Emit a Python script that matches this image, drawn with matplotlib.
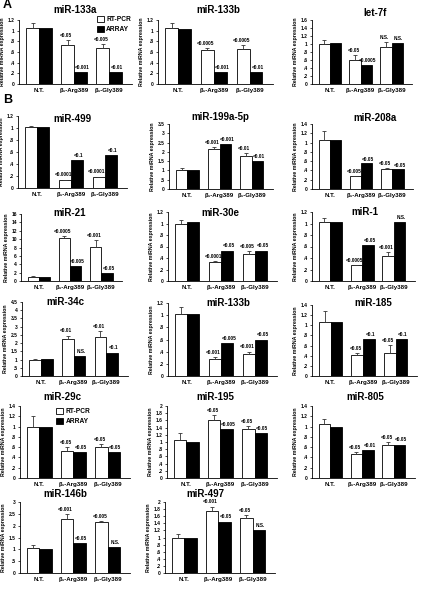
import matplotlib
matplotlib.use("Agg")
import matplotlib.pyplot as plt
import numpy as np
from matplotlib.patches import Patch

plt.rcParams['font.family'] = ['Liberation Sans', 'DejaVu Sans']
plt.rcParams['font.weight'] = 'bold'

W, H = 421, 601
groups = ["N.T.", "β₁-Arg389", "β₁-Gly389"]

# ---------------- data ----------------
titles = ["miR-133a", "miR-133b", "let-7f",
          "miR-499", "miR-199a-5p", "miR-208a",
          "miR-21", "miR-30e", "miR-1",
          "miR-34c", "miR-133b", "miR-185",
          "miR-29c", "miR-195", "miR-805",
          "miR-146b", "miR-497"]

rtpcr = [[1.05, 0.74, 0.67], [1.05, 0.63, 0.66], [1.00, 0.60, 0.92],
         [1.02, 0.13, 0.18], [1.02, 2.18, 1.78], [1.05, 0.27, 0.43],
         [1.00, 10.2, 8.1], [1.00, 0.33, 0.47], [1.02, 0.27, 0.43],
         [1.00, 2.25, 2.35], [1.02, 0.28, 0.36], [1.06, 0.42, 0.45],
         [1.00, 0.52, 0.60], [1.05, 1.60, 1.35], [1.05, 0.47, 0.65],
         [1.05, 2.30, 2.15], [1.00, 1.75, 1.55]]

rtpcr_err = [[0.10, 0.08, 0.08], [0.10, 0.05, 0.07], [0.10, 0.12, 0.12],
             [0.02, 0.01, 0.01], [0.10, 0.10, 0.18], [0.20, 0.02, 0.02],
             [0.20, 0.60, 1.60], [0.06, 0.02, 0.05], [0.08, 0.01, 0.08],
             [0.05, 0.20, 0.40], [0.12, 0.03, 0.04], [0.22, 0.04, 0.16],
             [0.20, 0.08, 0.06], [0.20, 0.15, 0.10], [0.10, 0.03, 0.05],
             [0.15, 0.20, 0.05], [0.10, 0.12, 0.08]]

array = [[1.05, 0.23, 0.23], [1.03, 0.22, 0.22], [1.02, 0.48, 1.02],
         [1.02, 0.46, 0.55], [1.02, 2.42, 1.52], [1.06, 0.55, 0.42],
         [1.00, 3.50, 1.90], [1.02, 0.53, 0.53], [1.02, 0.63, 1.02],
         [1.02, 1.22, 1.42], [1.02, 0.54, 0.60], [1.06, 0.72, 0.72],
         [1.00, 0.50, 0.50], [1.00, 1.35, 1.25], [1.00, 0.55, 0.65],
         [1.00, 1.25, 1.10], [1.00, 1.45, 1.20]]

rt_pvals = [["<0.05", "<0.005"], ["<0.0005", "<0.0005"], ["<0.05", "N.S."],
            ["<0.0001", "<0.0001"], ["<0.001", "<0.01"], ["<0.005", "<0.05"],
            ["<0.0005", "<0.001"], ["<0.0001", "<0.005"], ["<0.0005", "<0.001"],
            ["<0.01", "<0.01"], ["<0.001", "<0.001"], ["<0.05", "<0.05"],
            ["<0.05", "<0.05"], ["<0.05", "<0.05"], ["<0.05", "<0.05"],
            ["<0.001", "<0.005"], ["<0.001", "<0.05"]]

ar_pvals = [["<0.001", "<0.01"], ["<0.001", "<0.01"], ["<0.0005", "N.S."],
            ["<0.1", "<0.1"], ["<0.001", "<0.01"], ["<0.05", "<0.05"],
            ["<0.005", "<0.05"], ["<0.05", "<0.05"], ["<0.05", "N.S."],
            ["N.S.", "<0.1"], ["<0.005", "<0.05"], ["<0.1", "<0.1"],
            ["<0.05", "<0.05"], ["<0.005", "<0.05"], ["<0.01", "<0.05"],
            ["<0.05", "N.S."], ["<0.05", "N.S."]]

ymax = [1.2, 1.2, 1.6, 1.2, 3.5, 1.4, 16, 1.2, 1.2, 4.5, 1.2, 1.4,
        1.4, 2.0, 1.4, 3.0, 2.0]
ystep = [0.2, 0.2, 0.2, 0.2, 0.5, 0.2, 2, 0.2, 0.2, 0.5, 0.2, 0.2,
         0.2, 0.2, 0.2, 0.5, 0.2]

# ---------------- layout (pixels) ----------------
# x0, x1, ytop, yzero
boxes = [(19, 132, 20, 84), (158, 273, 20, 84), (312, 412, 20, 84),
         (18, 127, 116, 188), (169, 273, 124, 189), (312, 413, 124, 189),
         (21, 122, 214, 281), (168, 277, 212, 281), (312, 415, 212, 281),
         (22, 128, 302, 376), (168, 277, 303, 376), (312, 417, 305, 376),
         (20, 130, 406, 478), (167, 277, 406, 478), (312, 415, 406, 478),
         (20, 130, 502, 573), (165, 275, 502, 573)]
title_pos = [(75, 10), (218, 10), (375, 13),
             (72, 119), (220, 117), (375, 118),
             (70, 213), (220, 213), (365, 212),
             (65, 302), (228, 303), (373, 303),
             (62, 397), (215, 397), (365, 397),
             (65, 494), (205, 494)]

fig = plt.figure(figsize=(W / 100, H / 100), dpi=100)
fig.patch.set_facecolor('white')

def fmt(v):
    if abs(v) < 1e-9:
        return "0"
    if abs(v - round(v)) < 1e-9:
        return str(int(round(v)))
    s = ("%.1f" % v)
    if s.startswith("0"):
        s = s[1:]
    return s

bw = 0.36
sh = 0.05
x = np.arange(3)
for i, t in enumerate(titles):
    x0, x1, yt, yz = boxes[i]
    ax = fig.add_axes([x0 / W, 1 - yz / H, (x1 - x0) / W, (yz - yt) / H])
    ax.bar(x - bw / 2, rtpcr[i], bw, color='white', edgecolor='black', linewidth=0.6,
           yerr=[np.zeros(3), rtpcr_err[i]], error_kw=dict(elinewidth=0.6, capsize=1.2,
                                                         capthick=0.6, ecolor='#333333'))
    ax.bar(x + bw / 2, array[i], bw, color='black', edgecolor='black', linewidth=0.6)
    ax.set_xlim(-0.57, 2.66)
    ax.set_ylim(0, ymax[i])
    ticks = np.arange(0, ymax[i] + 1e-9, ystep[i])
    ax.set_yticks(ticks)
    ax.set_yticklabels([fmt(v) for v in ticks], fontsize=3.5)
    ax.set_xticks(x)
    ax.set_xticklabels(groups, fontsize=4.4, fontweight='bold')
    ax.tick_params(axis='x', length=0, pad=3)
    ax.tick_params(axis='y', length=1.5, width=0.5, pad=1.5)
    for s in ['top', 'right']:
        ax.spines[s].set_visible(False)
    for s in ['left', 'bottom']:
        ax.spines[s].set_linewidth(0.6)
    ax.set_ylabel("Relative miRNA expression", fontsize=3.8, fontweight='bold', labelpad=2)
    # p-values
    off = ymax[i] * 0.03
    for g in (1, 2):
        ax.text(x[g] - bw / 2 - sh, rtpcr[i][g] + rtpcr_err[i][g] + off, rt_pvals[i][g - 1],
                ha='center', va='bottom', fontsize=3.4, fontweight='bold')
        ax.text(x[g] + bw / 2 + sh, array[i][g] + off, ar_pvals[i][g - 1],
                ha='center', va='bottom', fontsize=3.4, fontweight='bold')
    fig.text(title_pos[i][0] / W, 1 - title_pos[i][1] / H, t, ha='center', va='center',
             fontsize=7, fontweight='bold')
    if i in (0, 12):
        handles = [Patch(facecolor='white', edgecolor='black', linewidth=0.6, label='RT-PCR'),
                   Patch(facecolor='black', edgecolor='black', linewidth=0.6, label='ARRAY')]
        lx = 0.66 if i == 0 else 0.3
        ly = 1.12 if i == 0 else 1.02
        leg = ax.legend(handles=handles, loc='upper left', bbox_to_anchor=(lx, ly),
                        frameon=False, fontsize=4.8, handlelength=1.0, handleheight=1.0,
                        handletextpad=0.4, labelspacing=0.4, borderpad=0)
        for txt in leg.get_texts():
            txt.set_fontweight('bold')

fig.text(3 / W, 1 - 5 / H, "A", fontsize=9, fontweight='bold', va='center', ha='left')
fig.text(3 / W, 1 - 100 / H, "B", fontsize=9, fontweight='bold', va='center', ha='left')

fig.savefig("out.png", dpi=100, facecolor='white')
